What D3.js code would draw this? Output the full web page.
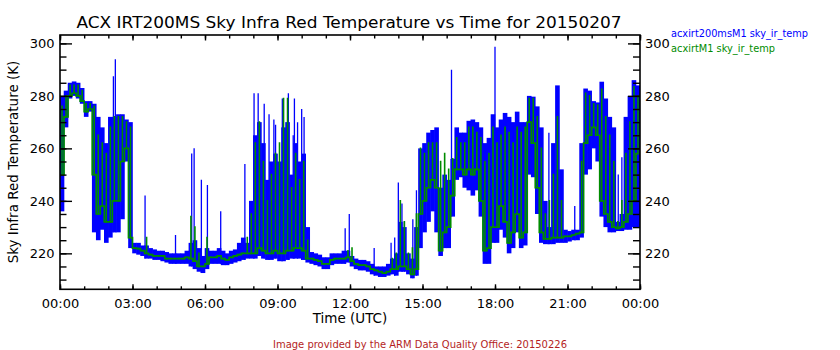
<!DOCTYPE html>
<html><head><meta charset="utf-8">
<script src="https://cdn.jsdelivr.net/npm/d3@7"></script>
<style>
body{margin:0;background:#fff}
text{font-family:"DejaVu Sans",sans-serif}
</style>
</head><body>
<svg id="c" width="840" height="350"></svg>
<script>
const titleText = "ACX IRT200MS Sky Infra Red Temperature vs Time for 20150207";
const yLabel = "Sky Infra Red Temperature (K)";
const xLabel = "Time (UTC)";
const footer = "Image provided by the ARM Data Quality Office: 20150226";
const seriesNames = ["acxirt200msM1 sky_ir_temp", "acxirtM1 sky_ir_temp"];
const xTickHours = [0, 3, 6, 9, 12, 15, 18, 21, 24];
const xTickLabels = ["00:00","03:00","06:00","09:00","12:00","15:00","18:00","21:00","00:00"];
const xMinorHours = d3.range(0, 25, 1);
const yTicks = [220, 240, 260, 280, 300];
const yMinor = d3.range(210, 301, 5);
const binMinutes = 10;

// acxirt200msM1: 10-minute bins, low and high of the dense band (K)
const blueLo = [
 236,268,279,280,279,277,
 272,274,228,225,229,224,
 226,228,228,233,255,222,
 220,219.5,219,218,218,217.5,
 217.5,217,216.5,216,216,216,
 216,216,215,214,213,212.5,
 214,216,216,216,215.5,215.5,
 216,216.5,217,217.5,218,218,
 218,219,218,217.5,217.5,218,
 217,217,217.5,218,218,218,
 217.5,216.5,216,215.5,215,214,
 214,215.5,216,216,216,216.5,
 215,214,213.5,213.5,213,212,
 211.5,211,211,211.5,212,211.5,
 213,213,212,210.5,211.5,222,
 228,232,236,228,219,222,
 222,234,248,249,245,244,
 242,244,234,216,216,224,
 224,229,226,220,222,228,
 222,223,250,249,235,224,
 223.5,223.5,223.5,224,224,224,
 224.5,225,225,226,250,252,
 260,255,234,230,228,228,
 228.5,228.5,229,229,230,230];
const blueHi = [
 280,282,285,285.5,285,283,
 278,278,277,272,268,262,
 272,272,273,273,271,270,
 224,224,223,223,222,221.5,
 221,221,220.5,220,220,220,
 220,221,224,225,222,219,
 222,221,221,222,221,220,
 221,221.5,224,226,224,240,
 265,270,262,248,255,258,
 255,268,270,250,262,255,
 258,230,220.5,220,219.5,218.5,
 218.5,220,220,220,221,221,
 219,218,217.5,217.5,217,216,
 215,215,215,216,218,220,
 232,230,220,218,230,260,
 262,266,267,268,245,250,
 248,256,268,266,266,270.5,
 271,270,268,262,264,273,
 268,271,273.5,272,270,274,
 270,270,280,279.7,276,268,
 240,230,262,284,252,229,
 228.5,229,229,262,282.8,282,
 278,277.5,285.4,279,272,268,
 232,235,272,280,286,284];
// isolated thin spikes of acxirt200msM1 (hour, K)
const spikeHours  = [2.21, 2.29, 3.52, 4.78, 5.45, 5.55, 5.85, 6.1, 6.65, 7.65,
                     8.03, 8.2, 8.45, 8.65, 8.85, 8.92, 9.2, 9.45, 9.65, 9.7, 9.83, 10.0, 10.1,
                     11.8, 11.97, 13.0, 13.7, 13.85, 14.0, 14.15, 14.25, 14.6, 14.75,
                     16.2, 18.0, 20.23, 21.3, 23.1, 23.25];
const spikeValues = [287.5, 294, 242, 227, 258, 260, 248, 246, 236, 254,
                     281, 281, 277, 273, 271, 269, 279, 281, 265, 279, 270, 275, 272,
                     229.6, 235, 222, 224, 226, 247, 239, 232, 233, 244,
                     290, 298.7, 266, 238, 250, 256.6];
// acxirtM1: 10-minute bins, low and high (K)
const greenLo = [
 250,272,280,281,280,278,
 274,275,250,235,238,232,
 232,240,240,255,260,226,
 222,221.8,221,220,219.5,219,
 219,219,218,218,218,218,
 218,218.5,218,217,215,215,
 216,218.5,218.5,219,218,217.5,
 218.5,219,219.5,220,220,220,
 220,222,221,220,220,221,
 220,220,221,221,222,222,
 221,218,218,217.5,217,216,
 216,217.5,218,218,218,218.5,
 217,216,215.5,215.5,215,214,
 213.5,213,212.5,213,214,214,
 215,215,214,212,214,235,
 240,245,248,245,221,228,
 230,242,252,252,250,252,
 250,252,240,221,222,230,
 230,238,232,224,228,235,
 226,228,270,262,245,228,
 225.5,225.5,226,226,226,226.5,
 226.5,227,227.5,228,262,265,
 268,265,240,235,232,230,
 229.5,230,232,235,240,258];
const greenHi = [
 276,280,284,284,284,282,
 277,277,276,265,262,258,
 268,272,272,272,270,268,
 222,221.8,221,226,219.5,219,
 219,219,218,218,218,218,
 218,218.5,234,230,220,215,
 226,218.5,218.5,219,218,217.5,
 218.5,219,219.5,220,226,235,
 262,270,255,240,250,258,
 262,279,279,245,258,248,
 255,225,218,217.5,217,216,
 216,217.5,218,218,218,221,
 222,216,215.5,215.5,215,214,
 213.5,213,212.5,213,218,220,
 240,232,220,222,235,260,
 258,262,262,262,255,258,
 252,256,264,262,262,268,
 268,266,264,255,258,268,
 262,265,268,266,262,268,
 266,268,279,279,272,260,
 235,240,250,272,240,226.5,
 226.5,227,227.5,255,281,280,
 277,276.5,282.5,272,265,255,
 232,240,258,270,283.5,280];

const svg = d3.select("#c");
const L = 60, R = 640, T = 35, B = 289.3;
const x = d3.scaleLinear().domain([0, 24]).range([L, R]);
const y = d3.scaleLinear().domain([206.3, 303.2]).range([B, T]);
const binH = binMinutes / 60;

svg.append("defs").append("clipPath").attr("id", "clip")
  .append("rect").attr("x", L).attr("y", T).attr("width", R - L).attr("height", B - T);
const g = svg.append("g").attr("clip-path", "url(#clip)");

// blue band: one bar per bin from low to high
g.selectAll("rect.blue").data(blueLo.map((v, i) => ({t: i * binH, lo: v, hi: blueHi[i]})))
  .join("rect").attr("class", "blue")
  .attr("x", d => x(d.t) - 0.3)
  .attr("width", d => x(d.t + binH) - x(d.t) + 0.6)
  .attr("y", d => y(d.hi))
  .attr("height", d => Math.max(1.5, y(d.lo) - y(d.hi)))
  .attr("fill", "#0000ff");

// blue thin spikes
g.selectAll("line.spike").data(spikeHours.map((h, i) => ({t: h, v: spikeValues[i]})))
  .join("line").attr("class", "spike")
  .attr("x1", d => x(d.t)).attr("x2", d => x(d.t))
  .attr("y1", d => y(blueLo[Math.min(143, Math.floor(d.t / binH))]))
  .attr("y2", d => y(d.v))
  .attr("stroke", "#0000ff").attr("stroke-width", 1.3);

// green: stepped line through the bin lows, plus a vertical stroke to each bin high
const greenBins = greenLo.map((v, i) => ({t: i * binH, lo: v, hi: greenHi[i]}));
g.append("path")
  .attr("d", d3.line().curve(d3.curveStep).x(d => x(d.t + binH / 2)).y(d => y(d.lo))(greenBins))
  .attr("fill", "none").attr("stroke", "#008c00").attr("stroke-width", 1.7);
g.selectAll("line.gv").data(greenBins).join("line").attr("class", "gv")
  .attr("x1", d => x(d.t + binH / 2)).attr("x2", d => x(d.t + binH / 2))
  .attr("y1", d => y(d.lo) + 0.8).attr("y2", d => y(d.hi) - 0.8)
  .attr("stroke", "#008c00").attr("stroke-width", 1.6);

// axes
function style(sel) {
  sel.select(".domain").remove();
  sel.selectAll(".tick line").attr("stroke", "#000").attr("stroke-width", 1.4);
  sel.selectAll("text").attr("font-size", 13).attr("fill", "#000")
     .attr("font-family", "DejaVu Sans, sans-serif");
}
svg.append("g").attr("transform", `translate(${L},0)`)
  .call(d3.axisLeft(y).tickValues(yMinor).tickSize(-6.5).tickFormat("")).call(style);
svg.append("g").attr("transform", `translate(${L},0)`)
  .call(d3.axisLeft(y).tickValues(yTicks).tickSize(-12).tickPadding(5.5).tickFormat(d3.format("d"))).call(style);
svg.append("g").attr("transform", `translate(${R},0)`)
  .call(d3.axisRight(y).tickValues(yMinor).tickSize(-7).tickFormat("")).call(style);
svg.append("g").attr("transform", `translate(${R},0)`)
  .call(d3.axisRight(y).tickValues(yTicks).tickSize(-12).tickPadding(5).tickFormat(d3.format("d"))).call(style);
svg.append("g").attr("transform", `translate(0,${B})`)
  .call(d3.axisBottom(x).tickValues(xMinorHours).tickSize(-3).tickFormat("")).call(style);
svg.append("g").attr("transform", `translate(0,${B})`)
  .call(d3.axisBottom(x).tickValues(xTickHours).tickSize(-5).tickPadding(9)
  .tickFormat((d, i) => xTickLabels[i])).call(style);
svg.append("g").attr("transform", `translate(0,${T})`)
  .call(d3.axisTop(x).tickValues(xMinorHours).tickSize(-3.5).tickFormat("")).call(style);
svg.append("g").attr("transform", `translate(0,${T})`)
  .call(d3.axisTop(x).tickValues(xTickHours).tickSize(-5.5).tickFormat("")).call(style);

svg.append("rect").attr("x", L).attr("y", T).attr("width", R - L).attr("height", B - T)
  .attr("fill", "none").attr("stroke", "#000").attr("stroke-width", 1.6);

// texts
svg.append("text").attr("x", 349).attr("y", 28).attr("text-anchor", "middle")
  .attr("font-size", 16).attr("textLength", 545).attr("lengthAdjust", "spacingAndGlyphs")
  .text(titleText);
svg.append("text").attr("transform", "translate(18,162) rotate(-90)").attr("text-anchor", "middle")
  .attr("font-size", 13.5).text(yLabel);
svg.append("text").attr("x", 350).attr("y", 323).attr("text-anchor", "middle")
  .attr("font-size", 13.5).text(xLabel);
svg.append("text").attr("x", 420).attr("y", 348).attr("text-anchor", "middle")
  .attr("font-size", 10.5).attr("fill", "#b41e1e").attr("textLength", 294)
  .attr("lengthAdjust", "spacingAndGlyphs").text(footer);
const legColors = ["#0000ff", "#008c00"];
seriesNames.forEach((s, i) => {
  svg.append("text").attr("x", 671).attr("y", 36.5 + i * 15.5)
    .attr("font-size", 10.5).attr("fill", legColors[i])
    .attr("textLength", i === 0 ? 137 : 104).attr("lengthAdjust", "spacingAndGlyphs").text(s);
});
</script>
</body></html>
